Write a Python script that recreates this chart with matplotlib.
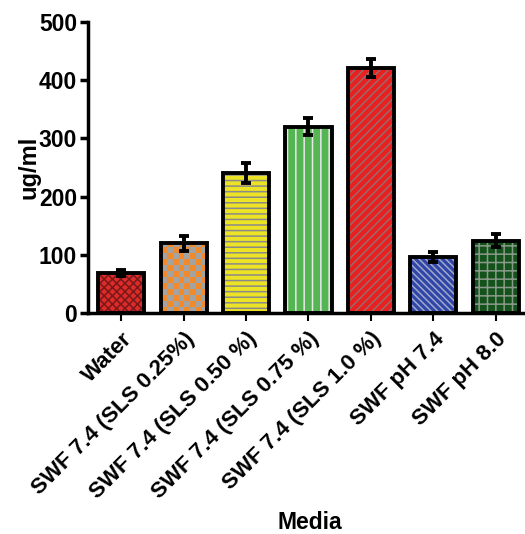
import matplotlib.pyplot as plt
import numpy as np
from matplotlib.colors import ListedColormap

plt.rcParams['font.family'] = ['Liberation Sans', 'DejaVu Sans']
plt.rcParams['font.weight'] = 'bold'
plt.rcParams['hatch.linewidth'] = 1.1

media = ["Water", "SWF 7.4 (SLS 0.25%)", "SWF 7.4 (SLS 0.50 %)", "SWF 7.4 (SLS 0.75 %)",
         "SWF 7.4 (SLS 1.0 %)", "SWF pH 7.4", "SWF pH 8.0"]
conc = [69, 120, 241, 320, 421, 96, 124]
err = [5, 13, 17, 15, 16, 8, 11]
face_colors = ["#dc2b2b", "#9c9c9c", "#ece324", "#55b552", "#e8201f", "#2f45a8", "#14521c"]
hatch_colors = ["#7a1818", "#9c9c9c", "#8a8a8a", "#e8e8e8", "#9a6a6a", "#a0a8c8", "#8a9a8a"]
hatches = ["xxxx", "", "---", "||", "////", "\\\\\\\\\\", "++"]

fig = plt.figure(figsize=(5.25, 5.34), dpi=100)
ax = fig.add_axes([0.168, 0.414, 0.832, 0.545])

x = np.arange(len(media))
width = 0.74
# fill + hatch layer
fills = ax.bar(x, conc, width=width, color=face_colors, edgecolor=hatch_colors, hatch=hatches,
               linewidth=0, zorder=2)

# orange / gray checkerboard texture for the SLS 0.25% bar
patch = fills[1]
n_cols, n_rows = 8, 40
checker = (np.add.outer(np.arange(n_rows), np.arange(n_cols)) % 2)
x0 = patch.get_x()
img = ax.imshow(checker, cmap=ListedColormap(["#f08a2a", "#a3a3a3"]), interpolation='nearest',
                extent=[x0, x0 + width, 0, n_rows * 10.3], origin='lower', aspect='auto', zorder=2.5)
img.set_clip_path(patch)

# outline + error bars
ax.bar(x, conc, width=width, color='none', edgecolor='black', linewidth=2.8, zorder=3,
       yerr=err, error_kw=dict(ecolor='black', elinewidth=2.8, capsize=3.8, capthick=2.8, zorder=4))

ax.set_xlim(-0.53, 6.47)
ax.set_ylim(0, 500)
ax.set_yticks([0, 100, 200, 300, 400, 500])
ax.set_xticks(x)
ax.set_xticklabels(media, rotation=45, ha='right', rotation_mode='anchor', fontsize=16,
                   fontweight='bold')
ax.tick_params(axis='y', labelsize=16.5, width=2.5, length=6, direction='out', pad=2)
ax.tick_params(axis='x', width=1.5, length=6, direction='out', pad=5)
for lab in ax.get_yticklabels():
    lab.set_fontweight('bold')

ax.spines['top'].set_visible(False)
ax.spines['right'].set_visible(False)
ax.spines['left'].set_linewidth(2.5)
ax.spines['bottom'].set_linewidth(2.5)

ax.set_ylabel("ug/ml", fontsize=17, fontweight='bold', labelpad=-1)
fig.text(0.591, 0.022, "Media", ha='center', va='center', fontsize=16.5, fontweight='bold')

fig.savefig("out.png", dpi=100)
